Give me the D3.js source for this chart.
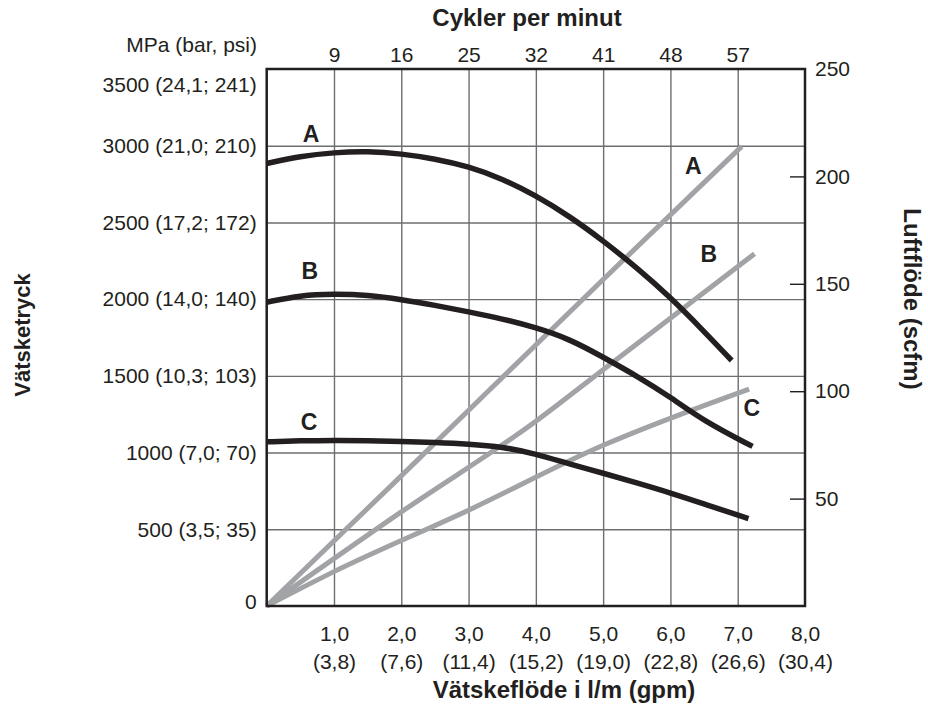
<!DOCTYPE html>
<html>
<head>
<meta charset="utf-8">
<script src="https://cdn.jsdelivr.net/npm/d3@7"></script>
<style>
  body { margin: 0; background: #fff; }
  svg { display: block; font-family: "Liberation Sans", Arial, Helvetica, sans-serif; }
  .axis text { font-size: 21px; fill: #231f20; }
  .title { font-size: 24px; font-weight: bold; fill: #231f20; }
  .tag { font-size: 23px; font-weight: bold; fill: #231f20; }
</style>
</head>
<body>
<svg width="928" height="704"></svg>
<script>
'use strict';

// flow (l/m) ticks with gpm equivalents
var flowTicks = [1, 2, 3, 4, 5, 6, 7, 8];
var flowGpm = ['(3,8)', '(7,6)', '(11,4)', '(15,2)', '(19,0)', '(22,8)', '(26,6)', '(30,4)'];
var cycleTicks = [9, 16, 25, 32, 41, 48, 57];

var pressureTicks = [0, 500, 1000, 1500, 2000, 2500, 3000, 3500];
var pressureLabels = ['0', '500 (3,5; 35)', '1000 (7,0; 70)', '1500 (10,3; 103)',
    '2000 (14,0; 140)', '2500 (17,2; 172)', '3000 (21,0; 210)', '3500 (24,1; 241)'];
var airTicks = [50, 100, 150, 200, 250];

// fluid pressure curves [flow, pressure]
var pressureA = [[0, 2884], [0.5, 2932], [1, 2956], [1.5, 2964], [2, 2948], [2.5, 2915], [3, 2865],
    [3.5, 2785], [4, 2675], [4.5, 2540], [5, 2381], [5.5, 2205], [6, 2012], [6.5, 1790], [6.91, 1600]];
var pressureB = [[0, 1980], [0.5, 2025], [1, 2034], [1.5, 2027], [2, 1998], [2.5, 1960], [3, 1918],
    [3.5, 1872], [4, 1815], [4.5, 1740], [5, 1622], [5.5, 1500], [6, 1362], [6.5, 1205], [7.22, 1040]];
var pressureC = [[0, 1070], [0.5, 1077], [1, 1080], [1.5, 1078], [2, 1073], [2.5, 1066], [3, 1056],
    [3.5, 1038], [4, 992], [4.5, 925], [5, 866], [5.5, 802], [6, 737], [6.5, 665], [7.16, 570]];

// air flow lines [flow, scfm]
var airA = [[0, 0], [2, 60.6], [5, 152], [7.06, 214]];
var airB = [[0, 0], [2, 43.8], [4, 86], [5, 110], [7.25, 164]];
var airC = [[0, 0], [1, 16], [3, 44.6], [5, 74.8], [7.17, 101]];

// curve letters: [letter, flow, value, scale]
var tags = [['A', 0.66, 3077, 'p'], ['B', 0.64, 2186, 'p'], ['C', 0.63, 1204, 'p'],
    ['A', 6.34, 205, 'a'], ['B', 6.57, 164, 'a'], ['C', 7.21, 92.5, 'a']];

var svg = d3.select('svg'),
    marginLeft = 266.7, marginTop = 69,
    width = 538.3, height = 537,
    canvas = svg.append('g').attr('transform', 'translate(' + marginLeft + ',' + marginTop + ')');

var x = d3.scaleLinear().domain([0, 8]).range([0, width]);
var yP = d3.scaleLinear().domain([0, 3500]).range([height, 0]);
var yA = d3.scaleLinear().domain([0, 250]).range([height, 0]);

// grid
canvas.append('g')
    .attr('class', 'grid')
    .call(d3.axisBottom(x).tickValues(flowTicks.slice(0, 7)).tickSize(height).tickFormat(''))
    .call(function(g) { g.select('.domain').remove(); });
canvas.append('g')
    .attr('class', 'grid')
    .call(d3.axisRight(yP).tickValues(pressureTicks.slice(1, 7)).tickSize(width).tickFormat(''))
    .call(function(g) { g.select('.domain').remove(); });
canvas.selectAll('.grid line').attr('stroke', '#6d6e71').attr('stroke-width', 1.4);

// bottom axis labels
var bottom = canvas.append('g')
    .attr('class', 'axis')
    .attr('transform', 'translate(0,' + height + ')')
    .call(d3.axisBottom(x).tickValues(flowTicks).tickSize(0).tickPadding(20)
        .tickFormat(function(d) { return d3.format('.1f')(d).replace('.', ','); }));
bottom.select('.domain').remove();
bottom.selectAll('.tick text').each(function(d, i) {
    d3.select(this).append('tspan')
        .attr('x', 0).attr('dy', '1.33em')
        .text(flowGpm[i]);
});

// top axis (cycles)
var topAxis = canvas.append('g')
    .attr('class', 'axis')
    .call(d3.axisTop(x).tickValues(flowTicks.slice(0, 7)).tickSize(0).tickPadding(7)
        .tickFormat(function(d, i) { return cycleTicks[i]; }));
topAxis.select('.domain').remove();

// left axis
var leftAxis = canvas.append('g')
    .attr('class', 'axis')
    .call(d3.axisLeft(yP).tickValues(pressureTicks).tickSize(0).tickPadding(10)
        .tickFormat(function(d, i) { return pressureLabels[i]; }));
leftAxis.select('.domain').remove();
leftAxis.selectAll('.tick text')
    .attr('dy', function(d) { return d === 3500 ? '1.08em' : d === 0 ? '0.1em' : '0.32em'; });

// right axis
var rightAxis = canvas.append('g')
    .attr('class', 'axis')
    .attr('transform', 'translate(' + width + ',0)')
    .call(d3.axisRight(yA).tickValues(airTicks).tickSize(0).tickPadding(10));
rightAxis.select('.domain').remove();
rightAxis.selectAll('.tick')
    .filter(function(d) { return d < 250; })
    .append('line')
    .attr('x1', -15).attr('x2', 0)
    .attr('stroke', '#231f20').attr('stroke-width', 1.4);

// lines
var pLine = d3.line()
    .x(function(d) { return x(d[0]); })
    .y(function(d) { return yP(d[1]); })
    .curve(d3.curveBasis);
var aLine = d3.line()
    .x(function(d) { return x(d[0]); })
    .y(function(d) { return yA(d[1]); })
    .curve(d3.curveMonotoneX);

canvas.selectAll('.air-line')
    .data([airA, airB, airC])
    .enter()
    .append('path')
    .attr('class', 'air-line')
    .attr('d', aLine)
    .attr('fill', 'none')
    .attr('stroke', '#a2a3a6')
    .attr('stroke-width', 5);

canvas.selectAll('.pressure-line')
    .data([pressureA, pressureB, pressureC])
    .enter()
    .append('path')
    .attr('class', 'pressure-line')
    .attr('d', pLine)
    .attr('fill', 'none')
    .attr('stroke', '#231f20')
    .attr('stroke-width', 5.5);

// frame
canvas.append('rect')
    .attr('width', width).attr('height', height)
    .attr('fill', 'none')
    .attr('stroke', '#231f20')
    .attr('stroke-width', 2.5);

// curve letters
canvas.selectAll('.tag')
    .data(tags)
    .enter()
    .append('text')
    .attr('class', 'tag')
    .attr('text-anchor', 'middle')
    .attr('dy', '0.36em')
    .attr('x', function(d) { return x(d[1]); })
    .attr('y', function(d) { return d[3] === 'p' ? yP(d[2]) : yA(d[2]); })
    .text(function(d) { return d[0]; });

// titles
svg.append('text')
    .attr('x', 257).attr('y', 52)
    .attr('text-anchor', 'end')
    .style('font-size', '21px').attr('fill', '#231f20')
    .text('MPa (bar, psi)');
svg.append('text').attr('class', 'title')
    .attr('x', 527).attr('y', 26)
    .attr('text-anchor', 'middle')
    .text('Cykler per minut');
svg.append('text').attr('class', 'title')
    .attr('x', 564).attr('y', 698)
    .attr('text-anchor', 'middle')
    .text('Vätskeflöde i l/m (gpm)');
svg.append('text').attr('class', 'title')
    .attr('transform', 'translate(30,335) rotate(-90)')
    .attr('text-anchor', 'middle')
    .style('font-size', '22px')
    .text('Vätsketryck');
svg.append('text').attr('class', 'title')
    .attr('transform', 'translate(904,299) rotate(90)')
    .attr('text-anchor', 'middle')
    .text('Luftflöde (scfm)');
</script>
</body>
</html>
